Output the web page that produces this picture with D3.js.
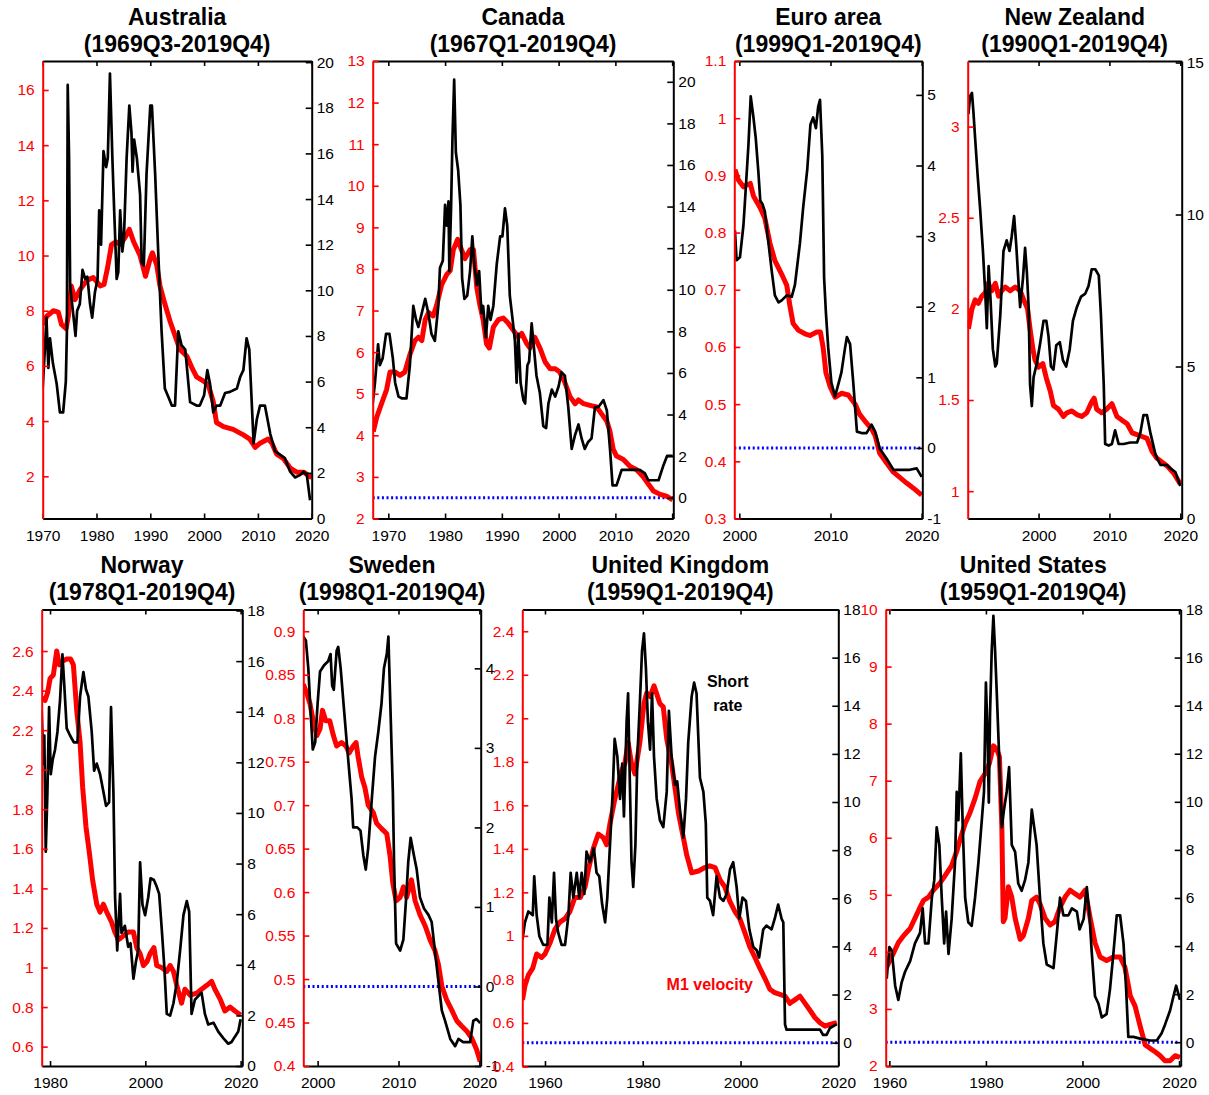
<!DOCTYPE html>
<html>
<head>
<meta charset="utf-8">
<script src="https://cdn.jsdelivr.net/npm/d3@7"></script>
<style>
  body { margin: 0; background: #fff; }
  text { font-family: "Liberation Sans", Arial, sans-serif; }
</style>
</head>
<body>
<div id="chart"></div>
<script>
// ---- data: [year, value]; velocity on left (red) axis, short rate on right (black) axis ----
const ausVelocity = [[1970.1,7.48],[1970.75,7.8],[1972.0,8.0],[1972.9,7.95],[1973.5,7.5],[1974.35,7.35],[1974.8,7.85],[1975.3,8.9],[1976.0,8.4],[1976.9,8.75],[1978.2,9.1],[1979.4,9.2],[1980.7,8.9],[1981.4,8.95],[1982.0,9.5],[1982.8,10.4],[1983.6,10.5],[1984.4,10.4],[1985.3,10.65],[1986.1,10.95],[1986.9,10.5],[1988.1,10.0],[1989.1,9.25],[1990.0,9.9],[1990.4,10.1],[1991.2,9.65],[1991.8,8.9],[1992.7,8.25],[1993.7,7.6],[1994.6,7.1],[1995.5,6.6],[1996.8,6.35],[1997.7,5.95],[1998.6,5.6],[1999.9,5.45],[2000.8,5.3],[2001.7,4.7],[2002.3,3.95],[2003.6,3.8],[2005.4,3.7],[2007.3,3.5],[2008.5,3.35],[2009.5,3.05],[2010.4,3.2],[2011.9,3.35],[2012.6,3.2],[2013.5,2.8],[2014.7,2.65],[2016.0,2.3],[2017.2,2.15],[2018.5,2.15],[2020.0,1.95]];
const ausRate = [[1970.0,5.7],[1970.4,7.4],[1970.7,8.8],[1971.05,6.6],[1971.35,7.9],[1971.9,6.8],[1972.6,5.9],[1973.2,4.65],[1973.8,4.65],[1974.3,6.0],[1974.5,8.2],[1974.65,19.0],[1974.9,15.8],[1975.1,10.2],[1975.7,8.9],[1976.1,8.0],[1976.4,9.1],[1976.9,9.4],[1977.4,10.9],[1977.9,10.5],[1978.3,10.6],[1978.8,9.4],[1979.2,8.8],[1979.7,9.9],[1980.2,10.5],[1980.5,13.5],[1980.85,12.0],[1981.3,16.1],[1981.8,15.4],[1982.1,15.8],[1982.5,19.5],[1982.95,15.8],[1983.3,13.4],[1983.75,10.5],[1984.05,10.8],[1984.4,13.5],[1984.8,11.7],[1985.1,12.3],[1985.6,15.8],[1986.1,18.1],[1986.5,16.9],[1986.7,15.2],[1987.0,16.6],[1987.5,15.8],[1988.1,14.2],[1988.4,11.2],[1988.8,11.1],[1989.3,15.1],[1990.0,18.1],[1990.3,18.1],[1990.9,15.1],[1991.5,11.5],[1992.1,8.2],[1992.7,5.7],[1993.4,5.3],[1994.0,4.95],[1994.6,4.95],[1995.2,8.2],[1995.8,7.6],[1996.5,7.4],[1997.4,5.1],[1998.6,4.95],[1999.2,4.95],[2000.0,5.4],[2000.6,6.5],[2001.1,5.9],[2001.7,4.65],[2002.3,4.95],[2003.0,4.95],[2003.9,5.5],[2004.8,5.55],[2006.1,5.7],[2006.7,6.2],[2007.3,6.5],[2007.9,7.9],[2008.4,7.4],[2009.0,4.35],[2009.2,3.3],[2009.8,4.35],[2010.4,4.95],[2011.3,4.95],[2012.3,3.7],[2013.2,2.95],[2014.1,2.8],[2015.0,2.65],[2016.0,2.05],[2016.9,1.8],[2017.8,1.9],[2018.5,2.05],[2019.1,1.9],[2019.7,0.8]];

const canVelocity = [[1967.35,4.09],[1967.95,4.43],[1968.8,4.76],[1969.7,5.1],[1970.3,5.52],[1971.2,5.52],[1972.05,5.44],[1972.9,5.52],[1973.8,5.94],[1974.7,6.28],[1975.3,6.36],[1975.9,6.28],[1976.5,6.78],[1977.1,6.95],[1977.9,6.87],[1978.5,7.12],[1979.4,7.62],[1980.3,7.87],[1980.9,7.96],[1981.45,8.46],[1982.2,8.71],[1982.9,8.46],[1983.5,8.25],[1984.4,8.46],[1985.0,8.46],[1985.6,7.54],[1986.15,7.12],[1986.7,6.78],[1987.3,6.2],[1987.8,6.1],[1988.5,6.6],[1989.4,6.78],[1990.25,6.82],[1991.1,6.7],[1992.0,6.53],[1992.9,6.36],[1993.5,6.45],[1994.4,6.2],[1994.95,6.1],[1995.8,6.36],[1996.7,6.1],[1997.6,5.77],[1998.5,5.6],[1999.4,5.6],[2000.2,5.52],[2001.1,5.27],[2002.0,4.93],[2002.9,4.76],[2003.5,4.85],[2004.4,4.76],[2005.5,4.72],[2006.7,4.68],[2007.6,4.51],[2008.5,4.34],[2009.05,4.09],[2009.6,3.67],[2010.2,3.5],[2011.4,3.42],[2012.6,3.25],[2013.75,3.17],[2014.9,3.0],[2015.8,2.83],[2016.7,2.66],[2017.9,2.58],[2019.0,2.54],[2020.1,2.45]];
const canRate = [[1967.25,4.53],[1967.65,5.53],[1968.2,7.38],[1968.5,6.37],[1969.0,6.7],[1969.6,7.88],[1970.2,7.88],[1970.8,6.7],[1971.2,5.53],[1971.8,4.86],[1972.35,4.78],[1973.2,4.78],[1973.8,6.37],[1974.4,9.22],[1974.9,8.55],[1975.3,8.21],[1975.9,8.88],[1976.5,9.56],[1977.05,8.88],[1977.6,7.88],[1978.2,7.54],[1978.8,9.22],[1979.1,11.06],[1979.6,11.4],[1980.0,14.08],[1980.3,13.08],[1980.6,14.25],[1980.75,10.9],[1981.05,13.9],[1981.3,17.27],[1981.6,20.1],[1981.9,16.6],[1982.3,15.76],[1982.7,14.08],[1983.0,10.56],[1983.4,9.56],[1983.9,9.72],[1984.4,10.9],[1984.8,12.57],[1985.15,11.23],[1985.6,10.23],[1986.0,10.9],[1986.4,8.88],[1986.7,9.22],[1987.2,7.71],[1987.6,9.22],[1988.0,8.55],[1988.5,9.22],[1989.1,11.23],[1989.7,12.57],[1990.1,12.57],[1990.55,13.91],[1990.95,13.08],[1991.4,9.72],[1991.9,8.55],[1992.3,7.54],[1992.6,5.53],[1992.9,7.88],[1993.3,5.53],[1993.8,4.69],[1994.1,4.53],[1994.5,6.37],[1994.8,6.54],[1995.25,8.38],[1995.65,7.21],[1996.1,5.87],[1996.7,5.03],[1997.3,3.44],[1997.8,3.35],[1998.2,4.53],[1998.8,5.2],[1999.4,4.86],[2000.0,5.36],[2000.5,6.03],[2001.1,5.87],[2001.7,4.36],[2002.3,2.35],[2002.9,3.02],[2003.5,3.52],[2004.05,2.85],[2004.6,2.35],[2005.2,2.68],[2005.8,2.85],[2006.4,4.36],[2007.0,4.36],[2007.9,4.69],[2008.5,4.19],[2009.05,2.35],[2009.5,0.59],[2010.2,0.59],[2011.1,1.34],[2012.6,1.34],[2014.3,1.34],[2015.2,1.17],[2015.8,0.84],[2017.6,0.84],[2018.4,1.51],[2019.1,2.01],[2020.1,2.01]];

const euroVelocity = [[1999.52,0.91],[1999.9,0.892],[2000.45,0.88],[2001.2,0.886],[2001.55,0.864],[2002.3,0.843],[2002.8,0.825],[2003.35,0.782],[2003.9,0.751],[2004.65,0.727],[2005.2,0.708],[2005.55,0.672],[2005.9,0.641],[2006.5,0.629],[2007.2,0.623],[2007.75,0.62],[2008.5,0.626],[2008.9,0.626],[2009.2,0.598],[2009.5,0.555],[2009.95,0.531],[2010.5,0.512],[2011.2,0.519],[2011.95,0.516],[2012.7,0.5],[2013.2,0.482],[2013.8,0.47],[2014.5,0.457],[2014.9,0.445],[2015.4,0.414],[2016.2,0.396],[2016.9,0.381],[2017.6,0.372],[2018.35,0.362],[2019.1,0.353],[2020.0,0.341]];
const euroRate = [[1999.52,3.08],[1999.7,2.66],[2000.07,2.7],[2000.45,3.15],[2000.6,3.45],[2001.0,4.29],[2001.25,4.98],[2001.55,4.68],[2001.8,4.39],[2002.1,3.89],[2002.3,3.5],[2002.55,3.45],[2002.8,3.35],[2003.2,2.9],[2003.55,2.51],[2003.9,2.16],[2004.3,2.06],[2004.65,2.09],[2005.2,2.16],[2005.75,2.14],[2006.1,2.31],[2006.65,2.9],[2007.0,3.4],[2007.45,3.94],[2007.8,4.58],[2008.1,4.68],[2008.4,4.53],[2008.65,4.83],[2008.85,4.93],[2009.1,4.14],[2009.3,2.41],[2009.5,1.91],[2009.75,1.42],[2010.1,0.92],[2010.5,0.73],[2010.9,0.92],[2011.2,1.07],[2011.6,1.42],[2011.8,1.57],[2012.15,1.47],[2012.5,0.92],[2012.9,0.23],[2013.4,0.21],[2013.95,0.21],[2014.5,0.33],[2014.9,0.23],[2015.4,-0.01],[2016.2,-0.16],[2016.9,-0.31],[2017.6,-0.31],[2018.7,-0.31],[2019.45,-0.29],[2020.0,-0.41]];

const nzVelocity = [[1990.1,1.89],[1990.6,2.0],[1991.05,2.05],[1991.5,2.03],[1992.0,2.07],[1992.5,2.09],[1992.9,2.14],[1993.4,2.1],[1993.9,2.14],[1994.35,2.07],[1994.8,2.1],[1995.3,2.12],[1996.0,2.1],[1996.7,2.12],[1997.4,2.1],[1997.9,2.05],[1998.45,2.0],[1998.8,1.89],[1999.2,1.78],[1999.5,1.72],[2000.0,1.68],[2000.6,1.7],[2001.1,1.62],[2001.65,1.55],[2002.1,1.47],[2002.8,1.45],[2003.5,1.41],[2004.0,1.43],[2004.7,1.44],[2005.4,1.42],[2006.1,1.41],[2006.8,1.43],[2007.5,1.49],[2007.85,1.51],[2008.2,1.45],[2008.9,1.43],[2009.6,1.45],[2010.35,1.48],[2011.05,1.41],[2011.75,1.39],[2012.5,1.37],[2013.2,1.32],[2013.9,1.31],[2014.6,1.3],[2015.3,1.29],[2016.0,1.22],[2016.7,1.18],[2017.4,1.16],[2018.1,1.14],[2019.05,1.1],[2020.0,1.04]];
const nzRate = [[1990.1,13.3],[1990.35,13.9],[1990.6,14.0],[1990.8,13.4],[1991.05,12.5],[1991.4,11.3],[1991.75,10.2],[1992.15,8.8],[1992.5,7.3],[1992.7,6.26],[1992.95,8.3],[1993.2,7.3],[1993.55,5.57],[1993.9,5.0],[1994.1,5.1],[1994.6,6.7],[1995.05,8.8],[1995.5,9.15],[1995.9,8.8],[1996.2,9.26],[1996.55,9.95],[1996.85,9.0],[1997.2,7.65],[1997.4,6.95],[1997.8,7.9],[1998.1,8.9],[1998.35,8.1],[1998.6,6.95],[1998.8,4.4],[1999.05,3.7],[1999.3,4.65],[1999.75,5.1],[2000.25,5.8],[2000.7,6.5],[2001.1,6.5],[2001.4,6.0],[2001.75,5.0],[2002.1,4.9],[2002.5,5.7],[2003.0,5.8],[2003.45,5.2],[2003.9,5.0],[2004.4,5.57],[2004.85,6.5],[2005.4,6.95],[2006.0,7.3],[2006.6,7.4],[2007.05,7.65],[2007.5,8.2],[2008.0,8.2],[2008.5,8.0],[2008.8,6.7],[2009.2,4.4],[2009.4,2.45],[2009.9,2.4],[2010.35,2.45],[2010.8,2.9],[2011.3,2.45],[2012.0,2.45],[2012.95,2.5],[2013.9,2.5],[2014.35,2.8],[2014.8,3.4],[2015.3,3.4],[2015.8,2.8],[2016.5,2.1],[2017.2,1.76],[2018.1,1.76],[2018.6,1.65],[2019.3,1.53],[2020.0,1.07]];

const norVelocity = [[1978.45,2.37],[1978.95,2.35],[1979.5,2.39],[1980.0,2.46],[1980.7,2.48],[1981.4,2.6],[1981.95,2.53],[1982.65,2.55],[1983.5,2.56],[1984.3,2.56],[1984.9,2.53],[1985.6,2.3],[1986.3,2.14],[1986.85,1.91],[1987.55,1.71],[1988.25,1.58],[1988.95,1.44],[1989.8,1.32],[1990.5,1.28],[1991.2,1.32],[1991.9,1.28],[1992.9,1.23],[1993.6,1.18],[1994.35,1.14],[1995.4,1.16],[1996.4,1.18],[1997.5,1.18],[1998.2,1.1],[1998.9,1.07],[1999.6,1.01],[2000.35,1.03],[2001.0,1.07],[2001.8,1.1],[2002.4,1.01],[2003.4,1.0],[2004.5,0.98],[2005.2,1.01],[2005.9,0.98],[2006.6,0.91],[2007.6,0.82],[2008.3,0.89],[2009.4,0.86],[2010.8,0.87],[2011.8,0.89],[2012.9,0.91],[2013.9,0.93],[2014.6,0.89],[2015.7,0.84],[2016.7,0.78],[2017.8,0.8],[2018.8,0.78],[2020.0,0.76]];
const norRate = [[1978.25,14.04],[1978.6,11.95],[1978.8,13.06],[1979.1,8.47],[1979.45,10.84],[1979.8,14.18],[1980.15,11.53],[1980.55,12.09],[1981.05,12.5],[1981.55,13.2],[1982.1,14.46],[1982.6,16.27],[1983.0,15.01],[1983.5,13.34],[1984.2,13.06],[1985.0,12.79],[1985.75,12.79],[1986.3,14.6],[1987.0,15.57],[1987.55,14.88],[1988.05,14.6],[1988.75,13.2],[1989.25,11.67],[1989.8,11.95],[1990.5,11.53],[1991.2,10.84],[1991.75,10.28],[1992.4,10.42],[1992.8,14.18],[1993.3,10.84],[1993.65,6.66],[1994.1,4.57],[1994.7,6.8],[1995.0,5.26],[1995.7,5.54],[1996.4,4.71],[1996.9,4.85],[1997.5,3.45],[1998.05,4.15],[1998.5,4.57],[1998.9,8.05],[1999.4,6.38],[1999.95,5.96],[2000.6,6.66],[2001.1,7.42],[2001.8,7.35],[2002.4,7.08],[2002.9,6.8],[2003.4,5.54],[2004.0,3.87],[2004.5,2.06],[2005.2,1.99],[2005.9,2.48],[2006.6,3.31],[2007.3,4.57],[2008.0,5.96],[2008.7,6.52],[2009.2,6.1],[2009.7,2.06],[2010.4,2.62],[2011.1,2.76],[2011.8,2.9],[2012.5,2.06],[2013.2,1.64],[2014.3,1.71],[2015.3,1.36],[2016.4,1.09],[2017.4,0.88],[2018.1,0.95],[2018.8,1.16],[2019.5,1.36],[2020.0,1.85]];

const sweVelocity = [[1998.23,0.839],[1998.65,0.829],[1999.05,0.817],[1999.45,0.797],[1999.9,0.78],[2000.3,0.788],[2000.6,0.809],[2001.0,0.797],[2001.5,0.797],[2001.95,0.78],[2002.35,0.768],[2002.95,0.772],[2003.5,0.768],[2003.9,0.76],[2004.4,0.768],[2004.75,0.772],[2005.0,0.756],[2005.45,0.732],[2005.85,0.72],[2006.25,0.7],[2006.9,0.691],[2007.3,0.679],[2007.9,0.673],[2008.55,0.667],[2008.95,0.642],[2009.3,0.61],[2009.7,0.59],[2010.2,0.594],[2010.6,0.606],[2011.0,0.594],[2011.6,0.614],[2012.05,0.59],[2012.65,0.574],[2013.3,0.561],[2013.9,0.545],[2014.5,0.533],[2014.95,0.516],[2015.35,0.492],[2015.95,0.476],[2016.6,0.464],[2017.2,0.452],[2017.8,0.446],[2018.45,0.44],[2019.05,0.432],[2019.65,0.419],[2020.1,0.405]];
const sweRate = [[1998.23,4.4],[1998.55,4.35],[1998.85,4.0],[1999.15,3.42],[1999.4,2.98],[1999.7,3.07],[2000.0,3.56],[2000.3,3.96],[2000.8,4.04],[2001.3,4.09],[2001.6,4.18],[2001.8,3.78],[2002.0,3.73],[2002.35,4.22],[2002.55,4.27],[2002.85,4.0],[2003.2,3.56],[2003.6,3.07],[2003.9,2.71],[2004.2,2.36],[2004.4,2.0],[2004.9,2.0],[2005.3,1.96],[2005.65,1.65],[2005.95,1.47],[2006.25,1.74],[2006.7,2.36],[2007.1,2.89],[2007.5,3.2],[2007.9,3.56],[2008.2,4.0],[2008.55,4.18],[2008.75,4.4],[2009.05,3.33],[2009.3,2.45],[2009.45,1.56],[2009.7,0.54],[2010.2,0.45],[2010.6,0.59],[2010.95,1.12],[2011.2,1.56],[2011.5,1.87],[2011.9,1.65],[2012.25,1.47],[2012.65,1.12],[2013.15,0.98],[2013.7,0.9],[2014.1,0.81],[2014.5,0.45],[2014.95,0.05],[2015.35,-0.3],[2015.75,-0.43],[2016.4,-0.66],[2017.0,-0.75],[2017.4,-0.66],[2018.0,-0.7],[2018.85,-0.7],[2019.25,-0.43],[2019.65,-0.41],[2020.1,-0.46]];

const ukVelocity = [[1955.4,0.706],[1955.9,0.771],[1956.6,0.82],[1957.5,0.852],[1958.3,0.917],[1959.3,0.901],[1960.0,0.917],[1961.0,0.966],[1962.05,1.031],[1963.05,1.063],[1964.1,1.079],[1965.1,1.112],[1966.1,1.176],[1967.2,1.176],[1968.2,1.225],[1968.9,1.306],[1969.9,1.403],[1970.9,1.468],[1971.9,1.452],[1972.6,1.419],[1973.3,1.517],[1974.3,1.63],[1975.0,1.695],[1975.7,1.76],[1976.35,1.792],[1977.0,1.889],[1977.7,1.792],[1978.4,1.744],[1979.4,1.889],[1980.25,2.068],[1980.8,2.116],[1981.5,2.1],[1982.3,2.149],[1982.8,2.116],[1983.5,2.068],[1984.2,2.052],[1984.9,1.906],[1985.9,1.792],[1986.6,1.679],[1987.3,1.565],[1988.3,1.452],[1989.0,1.371],[1990.0,1.29],[1991.4,1.298],[1992.7,1.314],[1993.7,1.322],[1994.8,1.314],[1995.8,1.257],[1996.8,1.225],[1997.8,1.16],[1998.85,1.112],[1999.85,1.079],[2000.9,1.014],[2001.9,0.949],[2002.95,0.901],[2003.95,0.852],[2005.0,0.804],[2006.0,0.755],[2007.0,0.739],[2008.05,0.731],[2009.1,0.723],[2010.1,0.69],[2011.1,0.706],[2012.15,0.723],[2013.2,0.69],[2014.2,0.658],[2015.2,0.625],[2016.25,0.601],[2017.3,0.585],[2018.3,0.593],[2019.7,0.601]];
const ukRate = [[1955.4,4.28],[1955.9,5.0],[1956.6,5.45],[1957.5,5.3],[1957.8,6.91],[1958.3,5.3],[1958.85,4.42],[1959.65,4.06],[1960.5,4.06],[1960.9,6.03],[1961.4,5.0],[1961.85,7.06],[1962.25,5.15],[1962.7,4.57],[1963.4,4.06],[1964.1,4.06],[1964.8,5.3],[1965.25,7.06],[1965.8,6.03],[1966.5,7.06],[1967.0,6.03],[1967.5,7.06],[1968.05,6.18],[1968.5,7.94],[1969.2,7.5],[1970.0,8.08],[1970.55,7.06],[1971.1,6.91],[1971.7,5.74],[1972.3,5.0],[1972.75,6.03],[1973.3,8.23],[1973.85,10.42],[1974.25,12.62],[1974.8,11.89],[1975.35,10.13],[1975.8,11.6],[1976.15,9.4],[1976.7,13.35],[1977.0,14.52],[1977.4,10.42],[1977.7,7.5],[1978.05,6.47],[1978.5,8.23],[1978.9,11.89],[1979.4,14.08],[1979.85,16.28],[1980.25,17.01],[1980.65,15.55],[1981.05,13.35],[1981.5,12.18],[1981.9,14.52],[1982.3,11.89],[1982.85,10.13],[1983.5,9.25],[1984.2,8.96],[1984.9,10.42],[1985.35,13.79],[1985.9,11.89],[1986.6,10.72],[1987.05,10.86],[1987.6,9.69],[1988.3,8.52],[1988.85,10.13],[1989.3,12.47],[1990.0,14.38],[1990.5,14.96],[1991.0,14.52],[1991.7,11.01],[1992.4,10.42],[1992.9,9.11],[1993.2,6.03],[1993.75,5.89],[1994.4,5.3],[1995.1,6.91],[1995.8,6.03],[1996.5,5.89],[1997.15,6.18],[1997.85,7.2],[1998.5,7.5],[1999.2,6.47],[1999.75,5.15],[2000.4,6.03],[2001.1,5.89],[2001.8,4.71],[2002.6,3.98],[2003.3,3.84],[2003.8,3.54],[2004.65,4.71],[2005.3,4.86],[2006.35,4.71],[2007.0,5.15],[2007.7,5.74],[2008.4,5.15],[2008.75,5.0],[2009.1,0.76],[2009.4,0.54],[2011.45,0.54],[2014.2,0.54],[2016.25,0.54],[2016.9,0.32],[2017.6,0.32],[2018.3,0.61],[2019.65,0.76]];

const usVelocity = [[1959.45,3.73],[1960.1,3.85],[1960.8,3.97],[1961.85,4.16],[1962.9,4.28],[1964.3,4.41],[1965.3,4.59],[1966.35,4.78],[1967.05,4.9],[1968.1,4.96],[1969.1,5.08],[1970.5,5.21],[1971.5,5.33],[1972.9,5.51],[1973.95,5.76],[1974.8,6.01],[1975.7,6.25],[1976.7,6.44],[1977.75,6.69],[1978.8,6.99],[1979.8,7.12],[1980.7,7.3],[1981.55,7.61],[1982.25,7.55],[1982.8,7.42],[1983.3,6.19],[1983.6,4.53],[1983.95,4.59],[1984.65,5.14],[1985.35,4.96],[1986.05,4.59],[1987.1,4.22],[1987.75,4.28],[1988.8,4.59],[1989.5,4.9],[1990.5,4.96],[1991.2,4.84],[1992.25,4.59],[1993.3,4.47],[1994.3,4.53],[1995.35,4.78],[1996.4,4.96],[1997.45,5.08],[1998.45,5.02],[1999.5,4.96],[2000.55,5.08],[2001.6,4.59],[2002.6,4.16],[2003.65,3.91],[2005.0,3.85],[2006.4,3.91],[2007.8,3.91],[2008.8,3.73],[2009.9,3.23],[2010.9,3.05],[2012.0,2.68],[2013.0,2.37],[2014.0,2.31],[2015.05,2.25],[2016.1,2.18],[2017.1,2.09],[2018.15,2.09],[2019.2,2.18],[2020.2,2.15]];
const usRate = [[1959.45,2.64],[1960.0,3.96],[1960.5,3.81],[1961.2,2.35],[1961.85,1.76],[1962.55,2.49],[1963.25,2.93],[1964.3,3.37],[1965.3,4.11],[1966.35,4.55],[1966.9,5.57],[1967.4,4.11],[1968.1,4.11],[1968.8,6.01],[1969.3,6.74],[1969.8,8.94],[1970.35,8.21],[1970.85,6.01],[1971.35,4.11],[1971.75,5.43],[1972.25,3.67],[1972.9,5.13],[1973.6,7.48],[1973.95,10.41],[1974.3,9.24],[1974.8,12.02],[1975.2,8.94],[1975.7,6.01],[1976.35,4.99],[1977.05,4.84],[1977.75,6.01],[1978.45,7.48],[1979.15,9.24],[1979.6,10.41],[1980.0,14.96],[1980.3,13.05],[1980.6,9.97],[1980.85,13.64],[1981.2,16.28],[1981.55,17.74],[1981.9,16.28],[1982.25,14.52],[1982.8,11.58],[1983.3,8.94],[1983.75,9.68],[1984.3,10.41],[1984.8,11.44],[1985.35,8.21],[1986.05,7.92],[1986.7,6.6],[1987.4,6.3],[1988.1,6.74],[1988.8,7.48],[1989.5,9.68],[1990.0,8.94],[1990.5,8.21],[1991.2,6.01],[1991.9,4.11],[1992.6,3.23],[1994.0,3.08],[1994.7,4.55],[1995.35,6.01],[1996.05,5.28],[1997.1,5.28],[1997.8,5.57],[1998.85,5.43],[1999.4,4.69],[2000.25,5.13],[2000.9,6.45],[2001.45,5.28],[2001.9,3.81],[2002.6,1.91],[2003.3,1.61],[2004.0,1.03],[2005.0,1.17],[2005.7,2.2],[2006.4,3.67],[2007.1,5.28],[2007.8,5.28],[2008.5,4.11],[2009.05,2.2],[2009.5,0.22],[2010.55,0.22],[2011.95,0.15],[2014.0,0.07],[2015.4,0.07],[2016.4,0.37],[2017.1,0.73],[2018.15,1.32],[2018.85,1.91],[2019.4,2.35],[2020.2,1.76]];

// ---- tick values ----
const ausVelTicks = [2, 4, 6, 8, 10, 12, 14, 16];
const ausRateTicks = [0, 2, 4, 6, 8, 10, 12, 14, 16, 18, 20];
const canVelTicks = [2, 3, 4, 5, 6, 7, 8, 9, 10, 11, 12, 13];
const canRateTicks = [0, 2, 4, 6, 8, 10, 12, 14, 16, 18, 20];
const euroVelTicks = [0.3, 0.4, 0.5, 0.6, 0.7, 0.8, 0.9, 1, 1.1];
const euroRateTicks = [-1, 0, 1, 2, 3, 4, 5];
const nzVelTicks = [1, 1.5, 2, 2.5, 3];
const nzRateTicks = [0, 5, 10, 15];
const norVelTicks = [0.6, 0.8, 1, 1.2, 1.4, 1.6, 1.8, 2, 2.2, 2.4, 2.6];
const norRateTicks = [0, 2, 4, 6, 8, 10, 12, 14, 16, 18];
const sweVelTicks = [0.4, 0.45, 0.5, 0.55, 0.6, 0.65, 0.7, 0.75, 0.8, 0.85, 0.9];
const sweRateTicks = [-1, 0, 1, 2, 3, 4];
const ukVelTicks = [0.4, 0.6, 0.8, 1, 1.2, 1.4, 1.6, 1.8, 2, 2.2, 2.4];
const ukRateTicks = [0, 2, 4, 6, 8, 10, 12, 14, 16, 18];
const usVelTicks = [2, 3, 4, 5, 6, 7, 8, 9, 10];
const usRateTicks = [0, 2, 4, 6, 8, 10, 12, 14, 16, 18];
const decadeTicks = [1970, 1980, 1990, 2000, 2010, 2020];
const recentTicks = [2000, 2010, 2020];
const twentyTicks = [1960, 1980, 2000, 2020];
const norYearTicks = [1980, 2000, 2020];

// ---- layout ----
const W = 1209, H = 1095;
const rows = [
  { top: 61, bottom: 518.5, title1: 24.5, title2: 52 },
  { top: 609.5, bottom: 1066, title1: 572.5, title2: 600 }
];

const panels = [
  { name: "Australia", period: "(1969Q3-2019Q4)", row: 0, left: 42.7, right: 311.7,
    years: [1970, 2020], velDomain: [0.47, 17.05], rateDomain: [0, 20.05],
    vel: ausVelocity, rate: ausRate, velTicks: ausVelTicks, rateTicks: ausRateTicks, yearTicks: decadeTicks, zero: false },
  { name: "Canada", period: "(1967Q1-2019Q4)", row: 0, left: 372.7, right: 673.3,
    years: [1967.25, 2020.2], velDomain: [2, 13], rateDomain: [-1, 21],
    vel: canVelocity, rate: canRate, velTicks: canVelTicks, rateTicks: canRateTicks, yearTicks: decadeTicks, zero: true },
  { name: "Euro area", period: "(1999Q1-2019Q4)", row: 0, left: 734.3, right: 922.3,
    years: [1999.45, 2020.07], velDomain: [0.3, 1.1], rateDomain: [-1, 5.48],
    vel: euroVelocity, rate: euroRate, velTicks: euroVelTicks, rateTicks: euroRateTicks, yearTicks: recentTicks, zero: true },
  { name: "New Zealand", period: "(1990Q1-2019Q4)", row: 0, left: 967.7, right: 1181.7,
    years: [1990, 2020.2], velDomain: [0.85, 3.36], rateDomain: [0, 15.05],
    vel: nzVelocity, rate: nzRate, velTicks: nzVelTicks, rateTicks: nzRateTicks, yearTicks: recentTicks, zero: false },
  { name: "Norway", period: "(1978Q1-2019Q4)", row: 1, left: 41.7, right: 242.3,
    years: [1978.25, 2020.35], velDomain: [0.502, 2.81], rateDomain: [0, 18.04],
    vel: norVelocity, rate: norRate, velTicks: norVelTicks, rateTicks: norRateTicks, yearTicks: norYearTicks, zero: false },
  { name: "Sweden", period: "(1998Q1-2019Q4)", row: 1, left: 303.3, right: 480.7,
    years: [1998.23, 2020.16], velDomain: [0.4, 0.925], rateDomain: [-1, 4.74],
    vel: sweVelocity, rate: sweRate, velTicks: sweVelTicks, rateTicks: sweRateTicks, yearTicks: recentTicks, zero: true },
  { name: "United Kingdom", period: "(1959Q1-2019Q4)", row: 1, left: 522.3, right: 838.3,
    years: [1955.36, 2020], velDomain: [0.402, 2.5], rateDomain: [-0.97, 18],
    vel: ukVelocity, rate: ukRate, velTicks: ukVelTicks, rateTicks: ukRateTicks, yearTicks: twentyTicks, zero: true,
    notes: true },
  { name: "United States", period: "(1959Q1-2019Q4)", row: 1, left: 885.7, right: 1180.7,
    years: [1959.24, 2020.35], velDomain: [2, 10], rateDomain: [-0.99, 18],
    vel: usVelocity, rate: usRate, velTicks: usVelTicks, rateTicks: usRateTicks, yearTicks: twentyTicks, zero: true }
];

const RED = "#ff0000", BLUE = "#0000ff";
const fmt = d => String(+d.toFixed(2));

const svg = d3.select("#chart").append("svg")
  .attr("width", W)
  .attr("height", H)
  .style("background", "#fff");

function drawPanel(p, i) {
  const r = rows[p.row];
  const x = d3.scaleLinear().domain(p.years).range([p.left, p.right]);
  const yL = d3.scaleLinear().domain(p.velDomain).range([r.bottom, r.top]);
  const yR = d3.scaleLinear().domain(p.rateDomain).range([r.bottom, r.top]);
  const cx = (p.left + p.right) / 2;

  const g = svg.append("g");

  g.append("text")
    .attr("x", cx).attr("y", r.title1)
    .attr("text-anchor", "middle")
    .style("font-size", "23px").style("font-weight", "bold")
    .text(p.name);
  g.append("text")
    .attr("x", cx).attr("y", r.title2)
    .attr("text-anchor", "middle")
    .style("font-size", "23px").style("font-weight", "bold")
    .text(p.period);

  g.append("clipPath").attr("id", "clip" + i)
    .append("rect")
    .attr("x", p.left).attr("y", r.top)
    .attr("width", p.right - p.left).attr("height", r.bottom - r.top);

  const plot = g.append("g").attr("clip-path", `url(#clip${i})`);

  if (p.zero) {
    plot.append("line")
      .attr("x1", p.left).attr("x2", p.right)
      .attr("y1", yR(0)).attr("y2", yR(0))
      .attr("stroke", BLUE)
      .attr("stroke-width", 3)
      .attr("stroke-dasharray", "2,2.6");
  }

  plot.append("path")
    .datum(p.vel)
    .attr("fill", "none")
    .attr("stroke", RED)
    .attr("stroke-width", 5)
    .attr("stroke-linejoin", "round")
    .attr("d", d3.line().x(d => x(d[0])).y(d => yL(d[1])));

  plot.append("path")
    .datum(p.rate)
    .attr("fill", "none")
    .attr("stroke", "#000")
    .attr("stroke-width", 2.7)
    .attr("stroke-linejoin", "round")
    .attr("d", d3.line().x(d => x(d[0])).y(d => yR(d[1])));

  // top and bottom frame with inward year ticks
  const topAxis = g.append("g")
    .attr("transform", `translate(0,${r.top})`)
    .call(d3.axisTop(x).tickValues(p.yearTicks).tickSize(-5).tickSizeOuter(0).tickFormat(""));
  const botAxis = g.append("g")
    .attr("transform", `translate(0,${r.bottom})`)
    .call(d3.axisBottom(x).tickValues(p.yearTicks).tickSize(-5).tickSizeOuter(0).tickPadding(11).tickFormat(d3.format("d")));
  botAxis.selectAll("text").style("font-size", "15.5px").attr("fill", "#000");

  const rightAxis = g.append("g")
    .attr("transform", `translate(${p.right},0)`)
    .call(d3.axisRight(yR).tickValues(p.rateTicks).tickSize(-6).tickSizeOuter(0).tickPadding(5).tickFormat(fmt));
  rightAxis.selectAll("text").style("font-size", "15.5px").attr("fill", "#000");

  const leftAxis = g.append("g")
    .attr("transform", `translate(${p.left},0)`)
    .call(d3.axisLeft(yL).tickValues(p.velTicks).tickSize(-6).tickSizeOuter(0).tickPadding(8).tickFormat(fmt));
  leftAxis.selectAll("text").style("font-size", "15.5px").attr("fill", RED);
  leftAxis.selectAll("line").attr("stroke", RED);

  [topAxis, botAxis, rightAxis].forEach(a => a.select(".domain").attr("stroke", "#000").attr("stroke-width", 2));
  leftAxis.select(".domain").attr("stroke", RED).attr("stroke-width", 2);
  [topAxis, botAxis, rightAxis, leftAxis].forEach(a => a.selectAll(".tick line").attr("stroke-width", 1.6));

  if (p.notes) {
    g.append("text")
      .attr("x", x(1997.4)).attr("y", yR(14.78))
      .attr("text-anchor", "middle")
      .style("font-size", "16px").style("font-weight", "bold")
      .text("Short");
    g.append("text")
      .attr("x", x(1997.4)).attr("y", yR(13.78))
      .attr("text-anchor", "middle")
      .style("font-size", "16px").style("font-weight", "bold")
      .text("rate");
    g.append("text")
      .attr("x", x(1993.7)).attr("y", yL(0.752))
      .attr("text-anchor", "middle")
      .attr("fill", RED)
      .style("font-size", "16px").style("font-weight", "bold")
      .text("M1 velocity");
  }
}

panels.forEach(drawPanel);
</script>
</body>
</html>
